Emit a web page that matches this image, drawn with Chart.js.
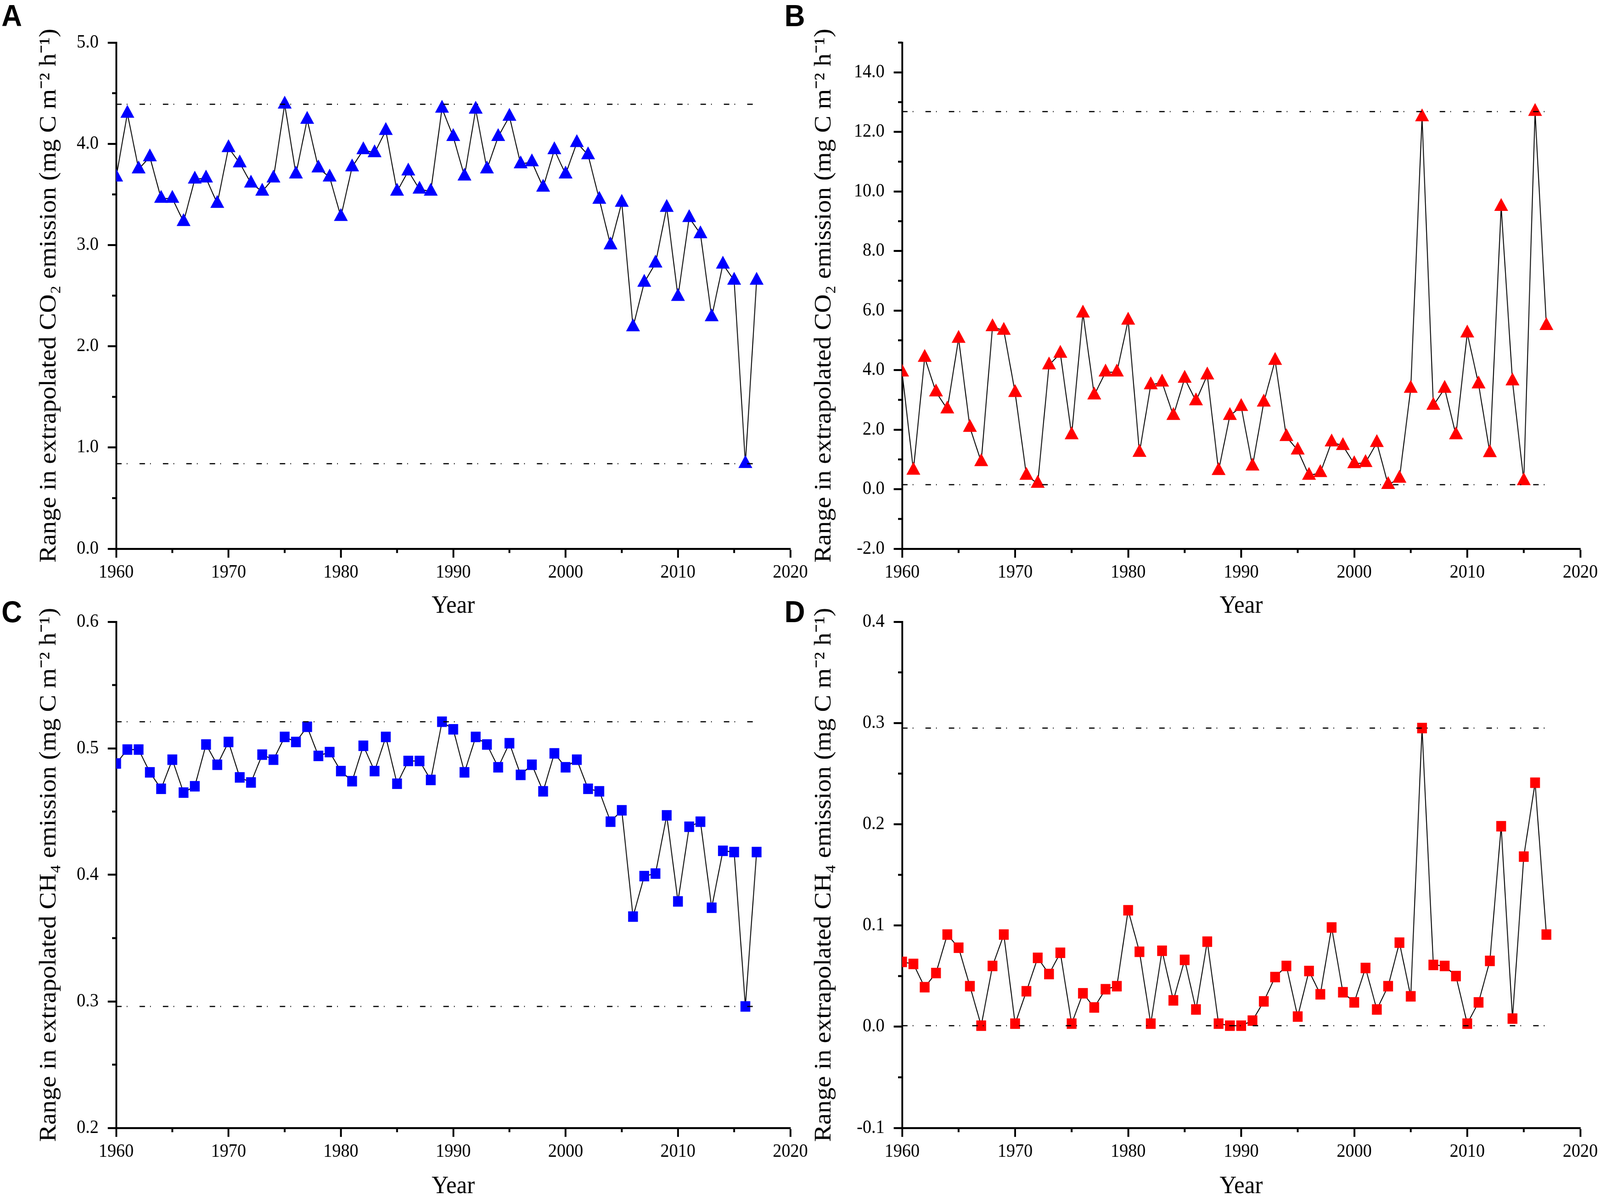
<!DOCTYPE html>
<html>
<head>
<meta charset="utf-8">
<script src="https://cdn.jsdelivr.net/npm/chart.js@4.4.1/dist/chart.umd.min.js"></script>
<style>
  html, body { margin: 0; padding: 0; background: #fff; overflow: hidden; }
  #page { position: absolute; left: 0; top: 0; width: 4381px; height: 3070px; transform-origin: 0 0; }
  canvas { position: absolute; }
  .tag {
    position: absolute;
    font-family: 'Liberation Sans', Arial, sans-serif;
    font-weight: bold;
    font-size: 78px;
    line-height: 78px;
    color: #000;
  }
</style>
</head>
<body>
<div id="page">
  <div class="tag" style="left:4px;top:1px">A</div>
  <div class="tag" style="left:2148px;top:1px">B</div>
  <div class="tag" style="left:4px;top:1527px">C</div>
  <div class="tag" style="left:2148px;top:1527px">D</div>

  <canvas id="chartA" width="2240" height="1600" style="left:0;top:0"></canvas>
  <canvas id="chartB" width="2230" height="1600" style="left:2190px;top:0"></canvas>
  <canvas id="chartC" width="2240" height="1590" style="left:0;top:1490px"></canvas>
  <canvas id="chartD" width="2230" height="1590" style="left:2190px;top:1490px"></canvas>
</div>

<script>
const years = [
  1960, 1961, 1962, 1963, 1964, 1965, 1966, 1967, 1968, 1969,
  1970, 1971, 1972, 1973, 1974, 1975, 1976, 1977, 1978, 1979,
  1980, 1981, 1982, 1983, 1984, 1985, 1986, 1987, 1988, 1989,
  1990, 1991, 1992, 1993, 1994, 1995, 1996, 1997, 1998, 1999,
  2000, 2001, 2002, 2003, 2004, 2005, 2006, 2007, 2008, 2009,
  2010, 2011, 2012, 2013, 2014, 2015, 2016, 2017
]

// A: CO2, blue triangles
const co2Blue = [
  3.67, 4.30, 3.75, 3.87, 3.46, 3.46, 3.23, 3.65, 3.66, 3.41,
  3.96, 3.81, 3.61, 3.53, 3.66, 4.39, 3.70, 4.24, 3.76, 3.67,
  3.28, 3.77, 3.94, 3.91, 4.13, 3.53, 3.73, 3.55, 3.53, 4.35,
  4.07, 3.68, 4.34, 3.75, 4.07, 4.27, 3.80, 3.82, 3.57, 3.94,
  3.70, 4.01, 3.89, 3.45, 3.00, 3.42, 2.19, 2.63, 2.82, 3.37,
  2.49, 3.27, 3.11, 2.29, 2.81, 2.65, 0.84, 2.65
]
const co2BlueBounds = [4.39, 0.84]

// B: CO2, red triangles
const co2Red = [
  3.93, 0.63, 4.42, 3.26, 2.69, 5.06, 2.07, 0.92, 5.45, 5.33,
  3.24, 0.46, 0.19, 4.17, 4.56, 1.82, 5.91, 3.16, 3.93, 3.93,
  5.67, 1.23, 3.50, 3.59, 2.47, 3.72, 2.96, 3.83, 0.62, 2.47,
  2.77, 0.77, 2.92, 4.32, 1.76, 1.31, 0.46, 0.55, 1.58, 1.46,
  0.85, 0.89, 1.56, 0.15, 0.36, 3.38, 12.50, 2.81, 3.38, 1.82,
  5.24, 3.53, 1.22, 9.49, 3.63, 0.28, 12.68, 5.49
]
const co2RedBounds = [12.68, 0.15]

// C: CH4, blue squares
const ch4Blue = [
  0.488, 0.499, 0.499, 0.481, 0.468, 0.491, 0.465, 0.470, 0.503, 0.487,
  0.505, 0.477, 0.473, 0.495, 0.491, 0.509, 0.505, 0.517, 0.494, 0.497,
  0.482, 0.474, 0.502, 0.482, 0.509, 0.472, 0.490, 0.490, 0.475, 0.521,
  0.515, 0.481, 0.509, 0.503, 0.485, 0.504, 0.479, 0.487, 0.466, 0.496,
  0.485, 0.491, 0.468, 0.466, 0.442, 0.451, 0.367, 0.399, 0.401, 0.447,
  0.379, 0.438, 0.442, 0.374, 0.419, 0.418, 0.296, 0.418
]
const ch4BlueBounds = [0.521, 0.296]

// D: CH4, red squares
const ch4Red = [
  0.064, 0.062, 0.039, 0.053, 0.091, 0.078, 0.040, 0.001, 0.060, 0.091,
  0.003, 0.035, 0.068, 0.052, 0.073, 0.003, 0.033, 0.019, 0.037, 0.040,
  0.115, 0.074, 0.003, 0.075, 0.026, 0.066, 0.017, 0.084, 0.003, 0.001,
  0.001, 0.006, 0.025, 0.049, 0.060, 0.010, 0.055, 0.032, 0.098, 0.034,
  0.024, 0.058, 0.017, 0.040, 0.083, 0.030, 0.295, 0.061, 0.060, 0.050,
  0.003, 0.024, 0.065, 0.198, 0.008, 0.168, 0.241, 0.091
]
const ch4RedBounds = [0.295, 0.001]

const co2Title = 'Range in extrapolated CO\u2082 emission (mg C m\u207B\u00B2 h\u207B\u00B9)'
const ch4Title = 'Range in extrapolated CH\u2084 emission (mg C m\u207B\u00B2 h\u207B\u00B9)'

const serif = "'Liberation Serif', 'Times New Roman', serif"

// layout is written in 4381x3070 units, the viewport can be narrower (4096 here)
const sx = window.innerWidth / 4381
const sy = window.innerHeight / 3070
document.getElementById('page').style.transform = `scale(${sx}, ${sy})`
const ratio = Math.max(sx, sy) * (window.devicePixelRatio || 1)

const isMajor = (v, step) => Math.abs(v / step - Math.round(v / step)) < 1e-6

// short minor ticks (the major ones come from chart.js itself)
const minorTicks = {
  id: 'minorTicks',
  afterDraw(chart, args, opts) {
    const ctx = chart.ctx
    ctx.save()
    ctx.strokeStyle = '#000'
    ctx.lineWidth = 5
    ;['x', 'y'].forEach(id => {
      const scale = chart.scales[id]
      const step = opts[id]
      scale.ticks.forEach(t => {
        if (isMajor(t.value, step)) return
        const p = scale.getPixelForValue(t.value)
        ctx.beginPath()
        if (id === 'x') {
          ctx.moveTo(p, scale.top)
          ctx.lineTo(p, scale.top + 11)
        } else {
          ctx.moveTo(scale.right, p)
          ctx.lineTo(scale.right - 11, p)
        }
        ctx.stroke()
      })
    })
    ctx.restore()
  }
}

const makePanel = (id, cfg) => {
  const points = years.map((yr, i) => ({ x: yr, y: cfg.values[i] }))
  const first = years[0]
  const last = years[years.length - 1]
  const boundSets = cfg.bounds.map(b => ({
    data: [{ x: first, y: b }, { x: last, y: b }],
    showLine: true,
    borderColor: '#000',
    borderWidth: 3,
    borderDash: [15, 14, 2, 33],
    pointRadius: 0,
    fill: false
  }))
  const size = cfg.marker === 'triangle' ? 22 : 19

  return new Chart(document.getElementById(id), {
    type: 'scatter',
    data: {
      datasets: [
        ...boundSets,
        {
          data: points,
          showLine: true,
          borderColor: '#000',
          borderWidth: 2.5,
          pointStyle: cfg.marker,
          pointRadius: size,
          pointHoverRadius: size,
          pointBackgroundColor: cfg.color,
          pointBorderWidth: 0
        }
      ]
    },
    options: {
      responsive: false,
      animation: false,
      devicePixelRatio: ratio,
      layout: { padding: cfg.padding },
      plugins: {
        legend: { display: false },
        tooltip: { enabled: false },
        minorTicks: { x: 10, y: cfg.major }
      },
      scales: {
        x: {
          type: 'linear',
          min: 1960,
          max: 2020,
          border: { display: true, color: '#000', width: 5 },
          grid: {
            drawOnChartArea: false,
            tickLength: 23,
            tickWidth: 5,
            tickColor: (c) => isMajor(c.tick.value, 10) ? '#000' : 'rgba(0,0,0,0)'
          },
          ticks: {
            stepSize: 5,
            padding: 10,
            color: '#000',
            font: { family: serif, size: 48 },
            maxRotation: 0,
            autoSkip: false,
            callback: (v) => isMajor(v, 10) ? String(v) : ''
          },
          title: {
            display: true,
            text: 'Year',
            color: '#000',
            font: { family: serif, size: 64 },
            padding: { top: 0, bottom: cfg.xTitlePad }
          },
          afterFit: (scale) => { scale.height = cfg.xHeight }
        },
        y: {
          min: cfg.min,
          max: cfg.max,
          border: { display: true, color: '#000', width: 5 },
          grid: {
            drawOnChartArea: false,
            tickLength: 23,
            tickWidth: 5,
            tickColor: (c) => isMajor(c.tick.value, cfg.major) ? '#000' : 'rgba(0,0,0,0)'
          },
          ticks: {
            stepSize: cfg.major / 2,
            padding: 25,
            color: '#000',
            font: { family: serif, size: 48 },
            autoSkip: false,
            callback: (v) => isMajor(v, cfg.major) ? v.toFixed(1) : ''
          },
          title: {
            display: true,
            text: cfg.title,
            color: '#000',
            font: { family: serif, size: 66 },
            padding: { top: cfg.yTitlePad, bottom: 0 }
          },
          afterFit: (scale) => { scale.width = cfg.yWidth }
        }
      }
    },
    plugins: [minorTicks]
  })
}

makePanel('chartA', {
  values: co2Blue, bounds: co2BlueBounds, color: '#0000FF', marker: 'triangle',
  min: 0, max: 5, major: 1, title: co2Title,
  padding: { left: 0, top: 109, right: 76, bottom: 0 },
  yWidth: 318, xHeight: 195, yTitlePad: 95, xTitlePad: 9
})

makePanel('chartB', {
  values: co2Red, bounds: co2RedBounds, color: '#FF0000', marker: 'triangle',
  min: -2, max: 15, major: 2, title: co2Title,
  padding: { left: 0, top: 109, right: 93, bottom: 0 },
  yWidth: 280, xHeight: 195, yTitlePad: 27, xTitlePad: 9
})

makePanel('chartC', {
  values: ch4Blue, bounds: ch4BlueBounds, color: '#0000FF', marker: 'rect',
  min: 0.2, max: 0.6, major: 0.1, title: ch4Title,
  padding: { left: 0, top: 102, right: 76, bottom: 0 },
  yWidth: 318, xHeight: 192, yTitlePad: 95, xTitlePad: 3
})

makePanel('chartD', {
  values: ch4Red, bounds: ch4RedBounds, color: '#FF0000', marker: 'rect',
  min: -0.1, max: 0.4, major: 0.1, title: ch4Title,
  padding: { left: 0, top: 102, right: 93, bottom: 0 },
  yWidth: 280, xHeight: 192, yTitlePad: 27, xTitlePad: 3
})
</script>
</body>
</html>
